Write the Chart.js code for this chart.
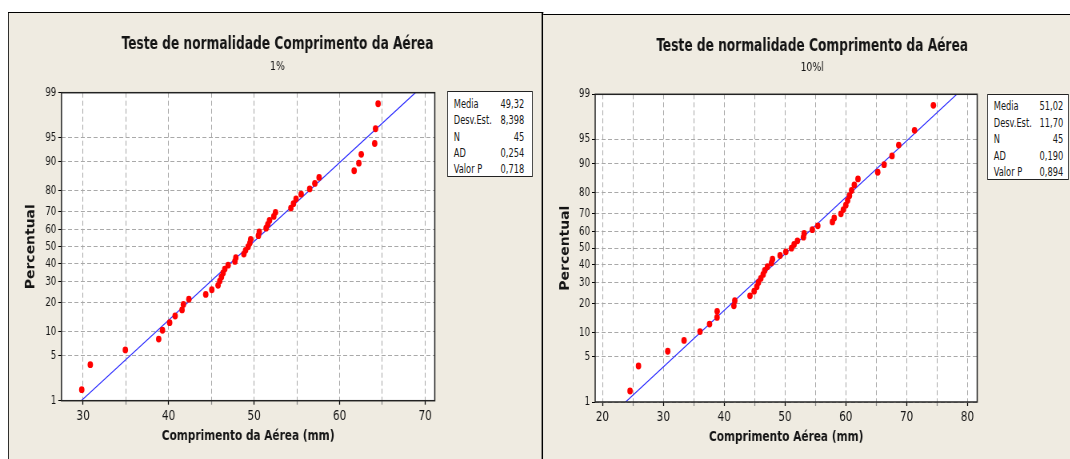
<!DOCTYPE html>
<html lang="pt">
<head>
<meta charset="utf-8">
<title>Teste de normalidade Comprimento da Aérea</title>
<script src="https://cdn.jsdelivr.net/npm/chart.js@4.4.1/dist/chart.umd.min.js"></script>
<style>
  html, body { margin: 0; padding: 0; background: #fff; }
  body { position: relative; width: 1070px; height: 459px; overflow: hidden; }
  /* the original screenshot is squeezed sideways; the stage reproduces that */
  #stage { position: absolute; left: 0; top: 0; height: 459px; transform-origin: 0 0; }
  .panel { position: absolute; background: #efebe1; box-sizing: border-box; }
  #panelL { border-left: 1.25px solid #000; border-top: 1px solid #000; border-right: 2.5px solid #000; }
  #panelR { border-top: 1px solid #000; }
  canvas { position: absolute; }
  .stats { position: absolute; background: #fff; border: 1px solid #222; border-left-width: 1.25px;
           border-right-width: 1.25px; box-sizing: border-box;
           font: 11.5px "DejaVu Sans Condensed", "DejaVu Sans", sans-serif; color: #1a1a1a; }
  .stats .row { position: absolute; left: 7.5px; height: 14px; line-height: 14px; white-space: nowrap; }
  .stats .v { position: absolute; right: 0; }
</style>
</head>
<body>
<div id="stage">
  <div class="panel" id="panelL"></div>
  <div class="panel" id="panelR"></div>
  <canvas id="cL"></canvas>
  <canvas id="cR"></canvas>
  <div class="stats" id="statsL"></div>
  <div class="stats" id="statsR"></div>
</div>
<script>
// percentis (posto mediano) comuns aos dois gráficos, n = 45
const percentis = [1.54, 3.74, 5.95, 8.15, 10.35, 12.56, 14.76, 16.96, 19.16, 21.37,
  23.57, 25.77, 27.97, 30.18, 32.38, 34.58, 36.78, 38.99, 41.19, 43.39,
  45.59, 47.80, 50.00, 52.20, 54.41, 56.61, 58.81, 61.01, 63.22, 65.42,
  67.62, 69.82, 72.03, 74.23, 76.43, 78.63, 80.84, 83.04, 85.24, 87.44,
  89.65, 91.85, 94.05, 96.26, 98.46];

// comprimento (mm), ordenado — 1%
const comp1 = [29.84, 30.84, 34.94, 38.84, 39.28, 40.12, 40.76, 41.57, 41.73, 42.37,
  44.34, 45.05, 45.78, 45.98, 46.18, 46.37, 46.57, 46.96, 47.75, 47.86,
  48.8, 49.0, 49.3, 49.5, 49.6, 50.5, 50.6, 51.4, 51.6, 51.8,
  52.3, 52.5, 54.3, 54.6, 54.9, 55.5, 56.5, 57.1, 57.6, 61.7,
  62.25, 62.53, 64.1, 64.2, 64.5];

// comprimento (mm), ordenado — 10%
const comp10 = [24.53, 25.92, 30.73, 33.41, 36.03, 37.6, 38.83, 38.85, 41.6, 41.75,
  44.25, 44.93, 45.37, 45.64, 46.03, 46.41, 46.68, 47.12, 47.78, 47.95,
  49.2, 50.14, 51.07, 51.5, 52.05, 53.04, 53.15, 54.5, 55.4, 57.8,
  58.1, 59.2, 59.6, 60.0, 60.3, 60.6, 60.95, 61.4, 62.0, 65.25,
  66.3, 67.6, 68.7, 71.3, 74.4];

const pctTicks = [1, 5, 10, 20, 30, 40, 50, 60, 70, 80, 90, 95, 99];
const xTicks1 = [30, 35, 40, 45, 50, 55, 60, 65, 70];
const xTicks10 = [20, 25, 30, 35, 40, 45, 50, 55, 60, 65, 70, 75, 80];

const statLabels = ['Media', 'Desv.Est.', 'N', 'AD', 'Valor P'];
const stats1 = ['49,32', '8,398', '45', '0,254', '0,718'];
const stats10 = ['51,02', '11,70', '45', '0,190', '0,894'];

/* ---------- styles ---------- */

const S = 0.8;                       // horizontal squeeze of the whole picture
const FONT = '"DejaVu Sans Condensed", "DejaVu Sans", sans-serif';
const INK = '#141414';
const GRID = '#a9a9a9';
const LINE = '#2b2bff';
const TITLE_PX = 17, SUB_PX = 13, XTITLE_PX = 14.7, YTITLE_PX = 15.5;

/* ---------- helpers ---------- */

// inverse normal CDF (Acklam)
function probit(p) {
  const a = [-3.969683028665376e+01, 2.209460984245205e+02, -2.759285104469687e+02,
             1.383577518672690e+02, -3.066479806614716e+01, 2.506628277459239e+00];
  const b = [-5.447609879822406e+01, 1.615858368580409e+02, -1.556989798598866e+02,
             6.680131188771972e+01, -1.328068155288572e+01];
  const c = [-7.784894002430293e-03, -3.223964580411365e-01, -2.400758277161838e+00,
             -2.549671348619914e+00, 4.374664141464968e+00, 2.938163982698783e+00];
  const d = [7.784695709041462e-03, 3.224671290700398e-01, 2.445134137142996e+00,
             3.754408661907416e+00];
  const lo = 0.02425;
  let q, r;
  if (p < lo) {
    q = Math.sqrt(-2 * Math.log(p));
    return (((((c[0]*q+c[1])*q+c[2])*q+c[3])*q+c[4])*q+c[5]) / ((((d[0]*q+d[1])*q+d[2])*q+d[3])*q+1);
  }
  if (p > 1 - lo) {
    q = Math.sqrt(-2 * Math.log(1 - p));
    return -(((((c[0]*q+c[1])*q+c[2])*q+c[3])*q+c[4])*q+c[5]) / ((((d[0]*q+d[1])*q+d[2])*q+d[3])*q+1);
  }
  q = p - 0.5; r = q * q;
  return (((((a[0]*r+a[1])*r+a[2])*r+a[3])*r+a[4])*r+a[5])*q / (((((b[0]*r+b[1])*r+b[2])*r+b[3])*r+b[4])*r+1);
}

function num(s) { return parseFloat(String(s).replace(',', '.')); }

// place an element given picture (screen) coordinates
function place(id, x, y, w, h) {
  const el = document.getElementById(id);
  el.style.left = (x / S) + 'px';
  el.style.top = y + 'px';
  el.style.width = (w / S) + 'px';
  el.style.height = h + 'px';
  return el;
}

const framePlugin = {
  id: 'frame',
  beforeDraw(chart) {
    const a = chart.chartArea, ctx = chart.ctx;
    ctx.save();
    ctx.fillStyle = '#fff';
    ctx.fillRect(a.left, a.top, a.right - a.left, a.bottom - a.top);
    ctx.restore();
  },
  afterDraw(chart) {
    const a = chart.chartArea, ctx = chart.ctx;
    ctx.save();
    ctx.strokeStyle = '#222';
    ctx.lineWidth = 1.5;
    ctx.strokeRect(a.left, a.top, a.right - a.left, a.bottom - a.top);
    ctx.restore();
  }
};

/* ---------- chart ---------- */

// g holds the wanted screen positions; they are turned into Chart.js padding here
function makeChart(id, g, xs, xTicks, subtitle, xTitle, stats) {
  const cw = Math.round(g.w / S), ch = g.h;
  const canvas = document.getElementById(id);
  canvas.width = cw; canvas.height = ch;
  canvas.style.width = cw + 'px'; canvas.style.height = ch + 'px';
  canvas.style.left = (g.x / S) + 'px'; canvas.style.top = g.y + 'px';

  const tLH = TITLE_PX * 1.2, sLH = SUB_PX * 1.2, xLH = XTITLE_PX * 1.2, yLH = YTITLE_PX * 1.2;
  const padL = 2 * (g.titleCx - g.x) / S - cw;
  const yW = (g.areaL - g.x) / S - padL;
  const rightW = cw - (g.areaR - g.x) / S;
  const yTitlePad = (g.yTitleCx - g.x) / S - padL - yLH / 2;
  const titleTop = g.titleMid - g.y - tLH / 2;
  const subTop = g.subMid - g.y - (titleTop + tLH) - sLH / 2;
  const subBottom = g.areaT - g.y - (titleTop + tLH + subTop + sLH);
  const xH = g.y + g.h - g.areaB;
  const xTitlePad = (g.y + g.h - g.xTitleMid) - xLH / 2;

  const media = num(stats[0]), desvio = num(stats[1]);
  const zLo = probit(0.01), zHi = probit(0.99);

  return new Chart(canvas, {
    type: 'scatter',
    data: {
      datasets: [
        {
          data: xs.map((x, i) => ({ x, y: probit(percentis[i] / 100) })),
          pointRadius: 3.4,
          backgroundColor: '#ff0000',
          borderWidth: 0,
          order: 1
        },
        {
          data: [{ x: media + zLo * desvio, y: zLo }, { x: media + zHi * desvio, y: zHi }],
          showLine: true,
          borderColor: LINE,
          borderWidth: 1.1,
          pointRadius: 0,
          order: 2
        }
      ]
    },
    options: {
      responsive: false,
      animation: false,
      events: [],
      layout: { padding: { left: padL, right: 0, top: 0, bottom: 0 } },
      plugins: {
        legend: { display: false },
        tooltip: { enabled: false },
        title: {
          display: true,
          text: 'Teste de normalidade Comprimento da Aérea',
          color: INK,
          font: { family: FONT, size: TITLE_PX, weight: 'bold' },
          padding: { top: titleTop, bottom: 0 }
        },
        subtitle: {
          display: true,
          text: subtitle,
          color: INK,
          font: { family: FONT, size: SUB_PX },
          padding: { top: subTop, bottom: subBottom }
        }
      },
      scales: {
        x: {
          type: 'linear',
          position: 'bottom',
          min: g.xMin,
          max: g.xMax,
          afterBuildTicks: s => { s.ticks = xTicks.map(v => ({ value: v })); },
          afterFit: s => { s.height = xH; },
          ticks: {
            autoSkip: false, maxRotation: 0, padding: 3, color: INK,
            font: { family: FONT, size: 14.5 },
            callback: v => (v % 10 === 0 ? String(v) : '')
          },
          grid: {
            color: GRID, lineWidth: 1, tickLength: 4, tickWidth: 1.25,
            tickColor: c => (c.tick && c.tick.value % 10 === 0 ? '#000' : '#888')
          },
          border: { display: false, dash: [5, 3] },
          title: {
            display: true, text: xTitle, color: INK,
            font: { family: FONT, size: XTITLE_PX, weight: 'bold' },
            padding: { top: 0, bottom: xTitlePad }
          }
        },
        y: {
          type: 'linear',
          position: 'left',
          min: zLo,
          max: zHi,
          afterBuildTicks: s => { s.ticks = pctTicks.map(p => ({ value: probit(p / 100) })); },
          afterFit: s => { s.width = yW; },
          ticks: {
            autoSkip: false, padding: 2.5, color: INK,
            font: { family: FONT, size: 12 },
            callback: (v, i) => String(pctTicks[i])
          },
          grid: { color: GRID, lineWidth: 1, tickLength: 4, tickColor: '#000' },
          border: { display: false, dash: [5, 3] },
          title: {
            display: true, text: 'Percentual', color: INK,
            font: { family: FONT, size: YTITLE_PX, weight: 'bold' },
            padding: { top: yTitlePad, bottom: 0 }
          }
        },
        // empty right box that keeps room for the stats table
        yR: {
          type: 'linear',
          position: 'right',
          afterFit: s => { s.width = rightW; },
          ticks: { display: false },
          grid: { display: false },
          border: { display: false }
        }
      }
    },
    plugins: [framePlugin]
  });
}

function renderStats(id, values, box) {
  const el = place(id, box.x, box.y, box.w, box.h);
  el.innerHTML = statLabels.map((l, i) =>
    '<div class="row" style="top:' + (box.rowTop + i * box.rowStep) + 'px;right:' +
    (box.inset / S) + 'px"><span>' + l + '</span><span class="v">' + values[i] +
    '</span></div>').join('');
}

document.getElementById('stage').style.width = (1070 / S) + 'px';
document.getElementById('stage').style.transform = 'scaleX(' + S + ')';
place('panelL', 8, 12, 535, 447);
place('panelR', 543, 14, 527, 445);

makeChart('cL', {
  x: 9, y: 13, w: 531, h: 446,
  areaL: 61.7, areaR: 435, areaT: 92.7, areaB: 400.7,
  titleCx: 277.7, titleMid: 45, subMid: 66.3,
  yTitleCx: 31, xTitleMid: 435.8,
  xMin: 27.47, xMax: 71.13
}, comp1, xTicks1, '1%', 'Comprimento da Aérea (mm)', stats1);

makeChart('cR', {
  x: 543, y: 15, w: 527, h: 444,
  areaL: 595, areaR: 977, areaT: 94.3, areaB: 402,
  titleCx: 812, titleMid: 47, subMid: 67.3,
  yTitleCx: 565.3, xTitleMid: 437.5,
  xMin: 18.8, xMax: 81.6
}, comp10, xTicks10, '10%l', 'Comprimento Aérea (mm)', stats10);

renderStats('statsL', stats1, { x: 447, y: 91, w: 86, h: 86, rowTop: 5, rowStep: 16.3, inset: 8 });
renderStats('statsR', stats10, { x: 987, y: 94, w: 82, h: 86, rowTop: 4, rowStep: 16.5, inset: 5 });
</script>
</body>
</html>
